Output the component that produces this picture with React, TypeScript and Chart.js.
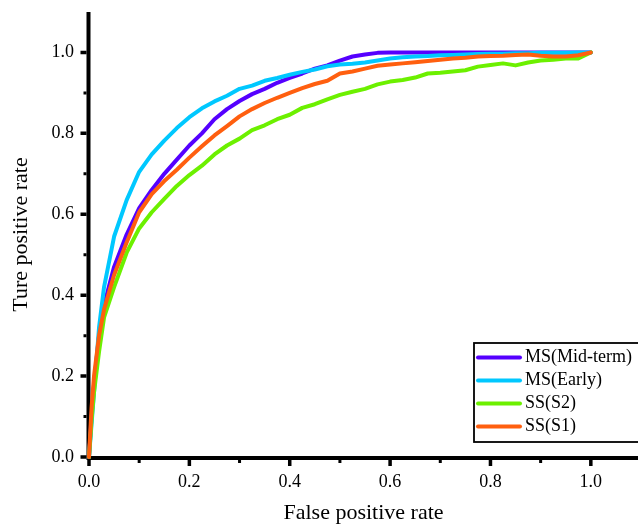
import React, { useEffect, useRef } from "react";
import { Chart, registerables } from "chart.js";

Chart.register(...registerables);

const FPR = [0, 0.005, 0.01, 0.02, 0.03, 0.05, 0.075, 0.1, 0.125, 0.15, 0.175, 0.2, 0.225, 0.25, 0.275, 0.3, 0.325, 0.35, 0.375, 0.4, 0.425, 0.45, 0.475, 0.5, 0.525, 0.55, 0.575, 0.6, 0.625, 0.65, 0.675, 0.7, 0.725, 0.75, 0.775, 0.8, 0.825, 0.85, 0.875, 0.9, 0.925, 0.95, 0.975, 1.0];

const TPR_MID = [0, 0.1, 0.18, 0.3, 0.375, 0.47, 0.55, 0.615, 0.66, 0.7, 0.735, 0.77, 0.8, 0.835, 0.86, 0.88, 0.897, 0.91, 0.925, 0.937, 0.948, 0.96, 0.968, 0.98, 0.99, 0.995, 0.999, 1, 1, 1, 1, 1, 1, 1, 1, 1, 1, 1, 1, 1, 1, 1, 1, 1];

const TPR_EARLY = [0, 0.08, 0.16, 0.32, 0.42, 0.545, 0.635, 0.705, 0.748, 0.782, 0.813, 0.84, 0.862, 0.879, 0.893, 0.91, 0.918, 0.93, 0.937, 0.945, 0.952, 0.958, 0.966, 0.97, 0.972, 0.975, 0.98, 0.985, 0.988, 0.99, 0.991, 0.993, 0.994, 0.995, 0.996, 0.997, 0.997, 0.998, 0.998, 0.999, 0.999, 0.999, 1, 1];

const TPR_S2 = [0, 0.09, 0.16, 0.26, 0.345, 0.42, 0.505, 0.565, 0.605, 0.638, 0.67, 0.697, 0.72, 0.748, 0.77, 0.787, 0.808, 0.82, 0.835, 0.846, 0.863, 0.872, 0.884, 0.895, 0.903, 0.91, 0.921, 0.928, 0.932, 0.938, 0.948, 0.95, 0.953, 0.956, 0.965, 0.969, 0.973, 0.968, 0.975, 0.98, 0.982, 0.985, 0.985, 1];

const TPR_S1 = [0, 0.12, 0.2, 0.3, 0.365, 0.45, 0.53, 0.605, 0.65, 0.682, 0.71, 0.74, 0.768, 0.795, 0.818, 0.842, 0.86, 0.875, 0.888, 0.9, 0.912, 0.922, 0.93, 0.948, 0.953, 0.96, 0.967, 0.97, 0.973, 0.976, 0.979, 0.982, 0.985, 0.987, 0.99, 0.991, 0.992, 0.994, 0.995, 0.992, 0.99, 0.99, 0.993, 1];

const SERIES_LABELS = ["MS(Mid-term)", "MS(Early)", "SS(S2)", "SS(S1)"];
const SERIES_COLORS = ["#5500ff", "#00c8ff", "#6cf000", "#ff5f0f"];
const SERIES_VALUES = [TPR_MID, TPR_EARLY, TPR_S2, TPR_S1];

const MAJOR_TICKS = [0, 0.2, 0.4, 0.6, 0.8, 1.0];
const MINOR_TICKS = [0.1, 0.3, 0.5, 0.7, 0.9];
const X_TITLE = "False positive rate";
const Y_TITLE = "Ture positive rate";

const FONT = "'Liberation Serif', 'Times New Roman', serif";

const axesPlugin = {
  id: "axesDraw",
  beforeDatasetsDraw(chart: any) {
    const { ctx, chartArea, scales } = chart;
    const xs = scales.x;
    const ys = scales.y;
    const x0 = xs.getPixelForValue(0);
    const y0 = ys.getPixelForValue(0);
    const ax = x0 - 0.5;
    const ay = y0 + 1;
    ctx.save();
    ctx.strokeStyle = "#000";
    ctx.lineCap = "butt";
    ctx.lineWidth = 4;
    ctx.beginPath();
    ctx.moveTo(ax, chartArea.top);
    ctx.lineTo(ax, ay + 2);
    ctx.moveTo(ax - 2, ay);
    ctx.lineTo(chartArea.right, ay);
    ctx.stroke();
    ctx.lineWidth = 3.5;
    ctx.beginPath();
    for (const v of MAJOR_TICKS) {
      const py = ys.getPixelForValue(v);
      ctx.moveTo(ax - 2, py);
      ctx.lineTo(ax - 8, py);
      const px = xs.getPixelForValue(v);
      ctx.moveTo(px, ay + 2);
      ctx.lineTo(px, ay + 8);
    }
    ctx.stroke();
    ctx.lineWidth = 3;
    ctx.beginPath();
    for (const v of MINOR_TICKS) {
      const py = ys.getPixelForValue(v);
      ctx.moveTo(ax - 2, py);
      ctx.lineTo(ax - 5, py);
      const px = xs.getPixelForValue(v);
      ctx.moveTo(px, ay + 2);
      ctx.lineTo(px, ay + 5);
    }
    ctx.stroke();
    ctx.restore();
  },
};

const legendPlugin = {
  id: "boxLegend",
  afterDraw(chart: any) {
    const { ctx } = chart;
    const left = 474;
    const top = 343;
    const bottom = 442;
    const right = chart.width + 4;
    ctx.save();
    ctx.fillStyle = "#fff";
    ctx.fillRect(left, top, right - left, bottom - top);
    ctx.strokeStyle = "#000";
    ctx.lineWidth = 1.8;
    ctx.strokeRect(left, top, right - left, bottom - top);
    ctx.font = `18px ${FONT}`;
    ctx.textBaseline = "middle";
    ctx.textAlign = "left";
    chart.data.datasets.forEach((ds: any, i: number) => {
      const cy = 357.5 + i * 23;
      ctx.strokeStyle = ds.borderColor;
      ctx.lineWidth = 4;
      ctx.lineCap = "round";
      ctx.beginPath();
      ctx.moveTo(478, cy);
      ctx.lineTo(520, cy);
      ctx.stroke();
      ctx.fillStyle = "#000";
      ctx.fillText(ds.label, 525, cy);
    });
    ctx.restore();
  },
};

export default function App() {
  const ref = useRef<HTMLCanvasElement | null>(null);

  useEffect(() => {
    if (!ref.current) return;
    const datasets = SERIES_LABELS.map((label, i) => ({
      label,
      data: FPR.map((x, j) => ({ x, y: SERIES_VALUES[i][j] })),
      borderColor: SERIES_COLORS[i],
      backgroundColor: SERIES_COLORS[i],
      borderWidth: 4,
      pointRadius: 0,
      tension: 0,
      borderJoinStyle: "round" as const,
      borderCapStyle: "round" as const,
      clip: false as const,
      order: SERIES_LABELS.length - i,
    }));
    const chart = new Chart(ref.current, {
      type: "line",
      data: { datasets },
      plugins: [axesPlugin, legendPlugin],
      options: {
        animation: false,
        responsive: false,
        layout: { padding: { top: 12, right: 0, left: 0, bottom: 0 } },
        plugins: { legend: { display: false }, tooltip: { enabled: false } },
        scales: {
          x: {
            type: "linear",
            min: 0,
            max: 1.094,
            grid: { display: false, drawTicks: false },
            border: { display: false },
            afterBuildTicks: (s: any) => {
              s.ticks = MAJOR_TICKS.map((v) => ({ value: v }));
            },
            afterFit: (s: any) => {
              s.height = 71;
              s.paddingLeft = 0;
              s.paddingRight = 0;
            },
            ticks: {
              font: { family: FONT, size: 18 },
              color: "#000",
              padding: 14,
              maxRotation: 0,
              autoSkip: false,
              callback: (v: any) => Number(v).toFixed(1),
            },
            title: {
              display: true,
              text: X_TITLE,
              font: { family: FONT, size: 22 },
              color: "#000",
              padding: { top: 0, bottom: 2 },
            },
          },
          y: {
            type: "linear",
            min: 0,
            max: 1.1,
            grid: { display: false, drawTicks: false },
            border: { display: false },
            afterBuildTicks: (s: any) => {
              s.ticks = MAJOR_TICKS.map((v) => ({ value: v }));
            },
            afterFit: (s: any) => {
              s.width = 89;
              s.paddingTop = 0;
              s.paddingBottom = 0;
            },
            ticks: {
              font: { family: FONT, size: 18 },
              color: "#000",
              padding: 15,
              autoSkip: false,
              callback: (v: any) => Number(v).toFixed(1),
            },
            title: {
              display: true,
              text: Y_TITLE,
              font: { family: FONT, size: 22 },
              color: "#000",
              padding: { top: 8, bottom: 0 },
            },
          },
        },
      },
    });
    return () => chart.destroy();
  }, []);

  return (
    <div style={{ position: "absolute", left: 0, top: 0, width: 638, height: 528, overflow: "hidden", background: "#fff" }}>
      <canvas ref={ref} width={638} height={528} style={{ display: "block" }} />
    </div>
  );
}
